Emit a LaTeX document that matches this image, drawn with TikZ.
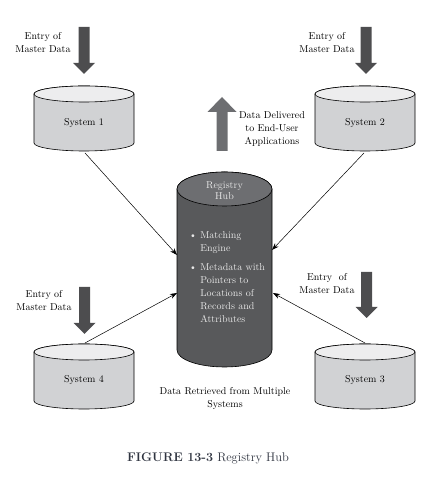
\documentclass[tikz,border=0pt]{standalone}
\usepackage{tikz}
\usetikzlibrary{arrows.meta}

\definecolor{sysbody}{HTML}{D1D2D4}
\definecolor{systop}{HTML}{EDEDEE}
\definecolor{hubbody}{HTML}{58595B}
\definecolor{hubtop}{HTML}{6D6E71}
\definecolor{hubfont}{HTML}{E8E8E8}
\definecolor{entryarrow}{HTML}{4D4D4F}
\definecolor{outarrow}{HTML}{6D6E71}
\definecolor{capcol}{HTML}{2F3440}

\tikzset{
  lbl/.style={font=\fontsize{10}{13}\selectfont, align=center, inner sep=0pt},
  hubtext/.style={lbl, text=hubfont},
  feed/.style={-{Stealth[length=7pt,width=5pt]}, line width=0.5pt},
}

\begin{document}
\begin{tikzpicture}[x=1pt,y=1pt]
                \useasboundingbox (0,0) rectangle (445,481);
                % source systems
                \foreach \cx/\ty/\by in {84/387/338, 365/387/338, 365/129/80, 84/129/80}{
                    \filldraw[fill=sysbody, line width=0.6pt] (\cx-50,\ty) -- (\cx-50,\by)
                        arc[start angle=180, end angle=360, x radius=50, y radius=8]
                        -- (\cx+50,\ty) arc[start angle=0, end angle=180, x radius=50, y radius=8] -- cycle;
                    \filldraw[fill=systop, line width=0.6pt] (\cx,\ty) ellipse[x radius=50, y radius=8];
                }
                \node[lbl] (sys1) at (84,358) {System 1};
                \node[lbl] (sys2) at (365,358) {System 2};
                \node[lbl] (sys3) at (365,101) {System 3};
                \node[lbl] (sys4) at (84,101) {System 4};
                % registry hub
                \filldraw[fill=hubbody, line width=0.6pt] (177,292) -- (177,131)
                    arc[start angle=180, end angle=360, x radius=47.5, y radius=17]
                    -- (272,292) arc[start angle=0, end angle=180, x radius=47.5, y radius=17] -- cycle;
                \filldraw[fill=hubtop, line width=0.6pt] (224.5,292) ellipse[x radius=47.5, y radius=17];
                \node[hubtext] (hubname) at (224.5,290.5) {Registry\\[-1.5pt]Hub};
                \node[hubtext, align=left, anchor=north west] (hubitems) at (189,250)
                    {\textbullet\ Matching\\\phantom{\textbullet\ }Engine\\[6pt]
                     \textbullet\ Metadata with\\\phantom{\textbullet\ }Pointers to\\
                     \phantom{\textbullet\ }Locations of\\\phantom{\textbullet\ }Records and\\
                     \phantom{\textbullet\ }Attributes};
                % block arrows
                \foreach \cx/\top/\neck/\tip in {84/454/418/407, 366/454/418/407, 366.5/209/174/163, 84.5/194/158/147}{
                    \fill[entryarrow] (\cx-5.5,\top) -- (\cx-5.5,\neck) -- (\cx-11,\neck) -- (\cx,\tip)
                        -- (\cx+11,\neck) -- (\cx+5.5,\neck) -- (\cx+5.5,\top) -- cycle;
                }
                \fill[outarrow] (216.5,330) -- (216.5,369) -- (207.5,369) -- (222,384)
                    -- (236.5,369) -- (227.5,369) -- (227.5,330) -- cycle;
                % labels
                \node[lbl] (entry1) at (43,438.5) {Entry of\\Master Data};
                \node[lbl] (entry2) at (327,438.5) {Entry of\\Master Data};
                \node[lbl] (entry3) at (327,197.5) {Entry~~of\\Master Data};
                \node[lbl] (entry4) at (44,180.5) {Entry of\\Master Data};
                \node[lbl] (delivered) at (272,352) {Data Delivered\\to End-User\\Applications};
                \node[lbl] (retrieved) at (225,82.5) {Data Retrieved from Multiple\\Systems};
                % connectors
                \coordinate (sys1 out) at (85,328);
                \coordinate (sys2 out) at (364,328);
                \coordinate (sys3 out) at (365,138);
                \coordinate (sys4 out) at (85,138);
                \coordinate (hub a) at (177,226);
                \coordinate (hub b) at (272,231);
                \coordinate (hub c) at (273,188);
                \coordinate (hub d) at (177,188);
                \draw[feed] (sys1 out) -- (hub a);
                \draw[feed] (sys2 out) -- (hub b);
                \draw[feed] (sys3 out) -- (hub c);
                \draw[feed] (sys4 out) -- (hub d);
                % caption
                \node[font=\fontsize{12.5}{15}\selectfont, text=capcol, inner sep=0pt] (caption) at (208,23)
                    {\textbf{FIGURE 13-3} Registry Hub};
            \end{tikzpicture}
\end{document}
